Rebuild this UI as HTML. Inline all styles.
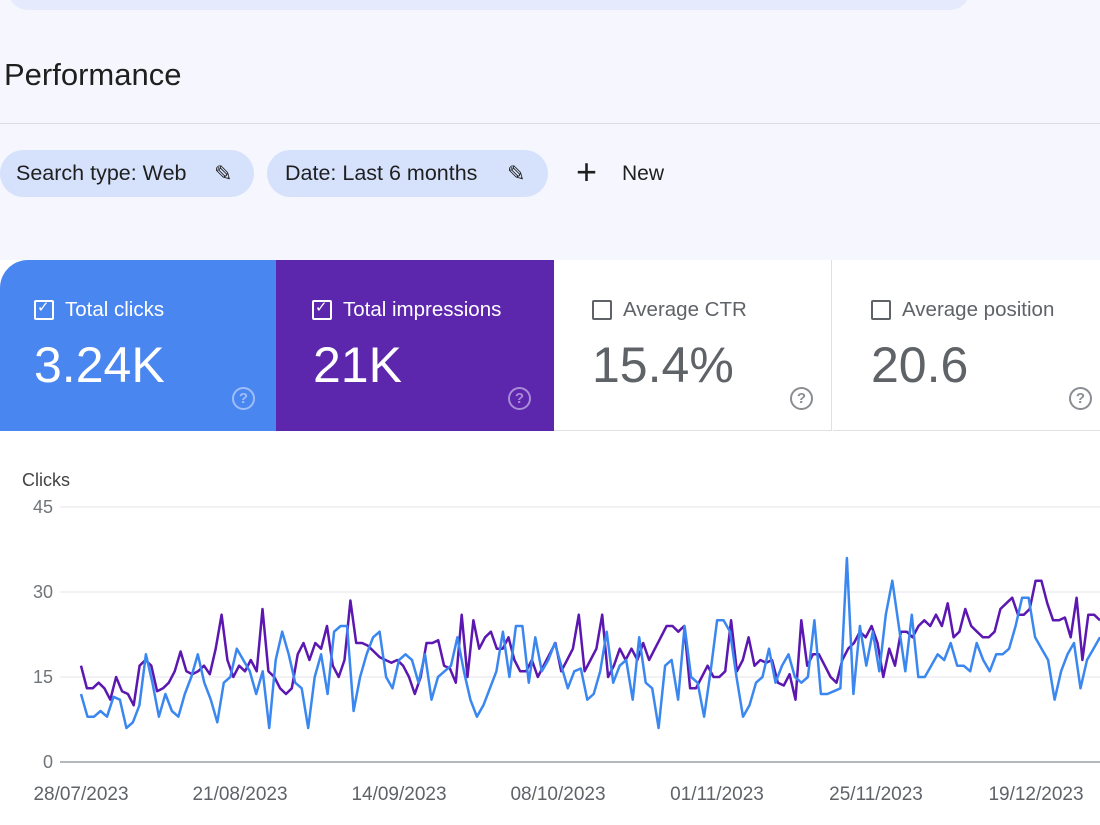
<!DOCTYPE html>
<html><head><meta charset="utf-8"><style>
body{margin:0;width:1100px;height:825px;overflow:hidden;background:#fff;font-family:"Liberation Sans",sans-serif;position:relative}
.top{position:absolute;left:0;top:0;width:1100px;height:260px;background:#f6f7fe}
.pill{position:absolute;left:8px;top:-30px;width:962px;height:40px;background:#e5ebfc;border-radius:0 0 20px 20px}
.title{position:absolute;left:4px;top:57px;font-size:31px;color:#1f1f1f}
.hr{position:absolute;left:0;top:123px;width:1100px;height:1px;background:#dcdde2}
.chip{position:absolute;top:150px;height:47px;background:#d6e2fc;border-radius:24px;font-size:21.5px;color:#1f1f1f;line-height:47px;white-space:nowrap}
.card{position:absolute;top:260px;height:171px;width:278px;box-sizing:border-box}
.ct{position:absolute;left:34px;top:38px;font-size:20.5px;display:flex;align-items:center;white-space:nowrap}
.cb{width:16px;height:16px;border:2px solid;border-radius:2px;margin-right:11px;position:relative}
.cv{position:absolute;left:34px;top:76px;font-size:50px}
.q{position:absolute;left:232px;top:127px;width:19px;height:19px;border:2px solid;border-radius:50%;font-size:15px;text-align:center;line-height:19px;font-weight:bold}
</style></head><body>
<div class="top"><div class="pill"></div><div class="title">Performance</div><div class="hr"></div>
<div class="chip" style="left:0;width:254px"><span style="margin-left:16px">Search type: Web</span><span style="position:absolute;left:214px;font-size:22px">✎</span></div>
<div class="chip" style="left:267px;width:281px"><span style="margin-left:18px">Date: Last 6 months</span><span style="position:absolute;left:240px;font-size:22px">✎</span></div>
<div style="position:absolute;left:576px;top:148px;line-height:47px;font-size:36px;color:#1f1f1f">+</div>
<div style="position:absolute;left:622px;top:150px;line-height:47px;font-size:21px;color:#1f1f1f">New</div>
</div>
<div class="card" style="left:0;background:#4a86f0;border-top-left-radius:28px;color:#fff"><div class="ct"><span class="cb" style="border-color:#fff"><span style="position:absolute;left:1px;top:-4px;font-size:15px">✓</span></span>Total clicks</div><div class="cv">3.24K</div><div class="q" style="color:#9fbdf6;border-color:#9fbdf6">?</div></div>
<div class="card" style="left:276px;background:#5c26ad;color:#fff"><div class="ct" style="left:36px"><span class="cb" style="border-color:#fff"><span style="position:absolute;left:1px;top:-4px;font-size:15px">✓</span></span>Total impressions</div><div class="cv" style="left:37px">21K</div><div class="q" style="color:#a98bd6;border-color:#a98bd6">?</div></div>
<div class="card" style="left:554px;background:#fff;border-right:1px solid #e0e0e0;border-bottom:1px solid #e0e0e0;color:#5f6368"><div class="ct" style="left:38px"><span class="cb" style="border-color:#5f6368"></span>Average CTR</div><div class="cv" style="left:38px">15.4%</div><div class="q" style="left:236px;color:#8a8d91;border-color:#8a8d91">?</div></div>
<div class="card" style="left:833px;background:#fff;border-bottom:1px solid #e0e0e0;color:#5f6368"><div class="ct" style="left:38px"><span class="cb" style="border-color:#5f6368"></span>Average position</div><div class="cv" style="left:38px">20.6</div><div class="q" style="left:236px;color:#8a8d91;border-color:#8a8d91">?</div></div>
<svg width="1100" height="825" style="position:absolute;left:0;top:0" font-family="Liberation Sans, sans-serif">
<text x="22" y="486" font-size="18" fill="#444">Clicks</text>
<g font-size="18" fill="#70757a" text-anchor="end">
<text x="53" y="513">45</text><text x="53" y="598">30</text><text x="53" y="683">15</text><text x="53" y="768">0</text></g>
<g stroke="#eeeef2" stroke-width="1.5"><line x1="60" y1="507" x2="1100" y2="507"/><line x1="60" y1="592" x2="1100" y2="592"/><line x1="60" y1="677" x2="1100" y2="677"/></g>
<line x1="60" y1="762" x2="1100" y2="762" stroke="#9aa0a6" stroke-width="1.5"/>
<g font-size="19" fill="#5f6368" text-anchor="middle">
<text x="81" y="800">28/07/2023</text><text x="240" y="800">21/08/2023</text><text x="399" y="800">14/09/2023</text><text x="558" y="800">08/10/2023</text><text x="717" y="800">01/11/2023</text><text x="876" y="800">25/11/2023</text><text x="1036" y="800">19/12/2023</text></g>
<polyline id="pp" fill="none" stroke="#5b17b0" stroke-width="2.5" stroke-linejoin="round"/>
<polyline id="bp" fill="none" stroke="#3b87f0" stroke-width="2.5" stroke-linejoin="round"/>
</svg>
<script>
var P=[17,13,13,14,13,11,15,12.5,12,10,17,18,17,12.5,13,14,16,19.5,16,15.5,16,17,15.5,20,26,18,15,17,16,18,16,27,16,15,13,12,13,19,21,18,21,20,24,17,15,18,28.5,21,21,20.5,19.5,18.5,18,17.5,18,17,15,12,15,21,21,21.5,17,16.5,14,26,15,25,20,22,23,20,20,22,18,16,16,18,15,17,19,21,16,18,20,26,16,18,20,26,15,17,20,18,20,18,21,18,20,22,24,24,23,24,13,13,15,17,15,15,16,25,16,18,22,17,18,17.5,18,14,13.5,15.5,11,25,17,19,19,17,15,14,18,20,21,23,22,24,21,15,20,17,23,23,22,24,25,24,26,24,28,22,23,27,24,23,22,22,23,27,28,29,26,26,27,32,32,28,25,25,25.5,22,29,18,26,26,25];
var B=[12,8,8,9,8,11.5,11,6,7,10,19,14,8,12,9,8,12,15,19,14,11,7,14,15,20,18,16,12,16,6,18,23,19,14,13,6,15,19,12,23,24,24,9,15,19,22,23,15,13,18,19,18,14,19,11,15,16,17,22,16,11,8,10,13,16,23,15,24,24,14,22,16,18,21,17,13,16,16.5,11,12,16,23,14,17,18,11,22,14,13,6,17,18,11,24,15,14,8,16,25,25,23,15,8,10,14,15,20,14,17,19,15,14,15,25,12,12,12.5,13,36,12,24,17,23,16,26,32,24,16,26,15,15,17,19,18,21,17,17,16,21,18,16,19,19,20,24,29,29,22,20,18,11,16,19,21,13,18,20,22];
function pts(a){var s=(1100-81)/(a.length-1),r=[];for(var i=0;i<a.length;i++)r.push((81+i*s).toFixed(1)+","+(762-a[i]*5.667).toFixed(1));return r.join(" ");}
document.getElementById("pp").setAttribute("points",pts(P));
document.getElementById("bp").setAttribute("points",pts(B));
</script>
</body></html>
